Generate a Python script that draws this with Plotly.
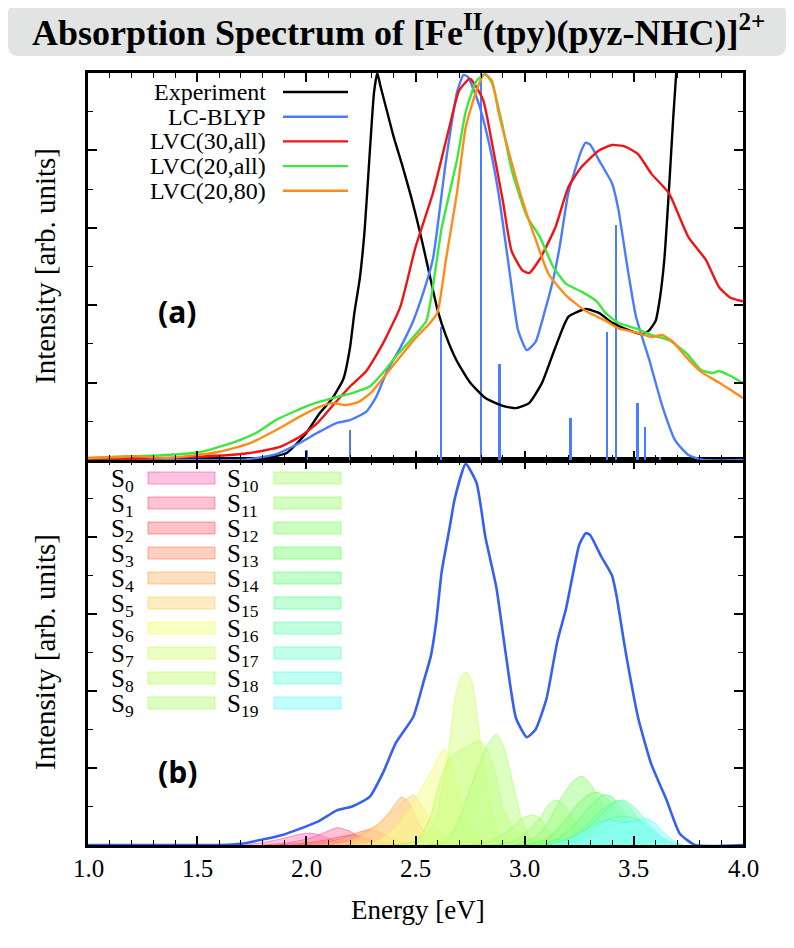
import plotly.graph_objects as go

# ---------------- data: panel (a) ----------------
exp_energy = [1.00, 1.30, 1.50, 1.70, 1.82, 1.91, 2.00, 2.06, 2.12, 2.17, 2.20, 2.22, 2.245, 2.267, 2.29,
              2.31, 2.325, 2.34, 2.37, 2.40, 2.44, 2.48, 2.52, 2.56, 2.60, 2.64, 2.69, 2.75, 2.82, 2.90,
              2.96, 3.02, 3.08, 3.14, 3.20, 3.28, 3.34, 3.40, 3.48, 3.54, 3.57, 3.60, 3.62, 3.64, 3.66,
              3.68, 3.70, 3.72]
exp_intensity = [0.0, 0.0, 0.002, 0.004, 0.006, 0.018, 0.07, 0.12, 0.16, 0.21, 0.29, 0.38, 0.47, 0.594, 0.79,
                 0.95, 1.0, 0.965, 0.90, 0.835, 0.76, 0.68, 0.59, 0.49, 0.39, 0.32, 0.255, 0.20, 0.16, 0.14,
                 0.134, 0.147, 0.20, 0.29, 0.37, 0.39, 0.38, 0.355, 0.335, 0.325, 0.335, 0.36, 0.42, 0.52, 0.69,
                 0.88, 1.05, 1.25]

lcblyp_energy = [1.00, 1.50, 1.70, 1.85, 1.97, 2.05, 2.14, 2.20, 2.275, 2.32, 2.37, 2.43, 2.49, 2.54, 2.58,
                 2.64, 2.69, 2.72, 2.74, 2.79, 2.84, 2.88, 2.93, 2.97, 3.01, 3.05, 3.09, 3.13, 3.16, 3.20,
                 3.26, 3.28, 3.30, 3.34, 3.40, 3.43, 3.47, 3.51, 3.57, 3.63, 3.69, 3.75, 3.82, 4.00]
lcblyp_intensity = [0.0, 0.0, 0.0, 0.013, 0.044, 0.07, 0.096, 0.103, 0.125, 0.163, 0.23, 0.29, 0.36, 0.44, 0.52,
                    0.775, 0.95, 0.995, 0.99, 0.92, 0.81, 0.69, 0.49, 0.335, 0.284, 0.305, 0.38, 0.465, 0.55, 0.69,
                    0.80, 0.82, 0.815, 0.775, 0.715, 0.645, 0.50, 0.37, 0.26, 0.14, 0.05, 0.013, 0.0, 0.0]

lvc30_energy = [1.00, 1.50, 1.74, 1.88, 1.97, 2.05, 2.12, 2.20, 2.275, 2.35, 2.43, 2.50, 2.58, 2.655, 2.70,
                2.75, 2.81, 2.85, 2.90, 2.94, 2.99, 3.02, 3.07, 3.14, 3.20, 3.26, 3.34, 3.40, 3.46, 3.52,
                3.58, 3.66, 3.75, 3.83, 3.89, 3.94, 4.00]
lvc30_intensity = [0.0, 0.008, 0.018, 0.034, 0.06, 0.095, 0.14, 0.19, 0.23, 0.30, 0.395, 0.55, 0.69, 0.86, 0.955,
                   0.985, 0.93, 0.82, 0.67, 0.54, 0.49, 0.483, 0.52, 0.60, 0.705, 0.757, 0.80, 0.814, 0.81, 0.79,
                   0.74, 0.69, 0.576, 0.517, 0.447, 0.42, 0.41]

lvc20all_energy = [1.00, 1.36, 1.51, 1.66, 1.77, 1.86, 1.94, 2.03, 2.12, 2.21, 2.29, 2.35, 2.41, 2.49, 2.55,
                   2.62, 2.69, 2.73, 2.78, 2.82, 2.85, 2.90, 2.94, 3.01, 3.07, 3.13, 3.19, 3.26, 3.33, 3.37,
                   3.43, 3.51, 3.58, 3.66, 3.74, 3.81, 3.86, 3.89, 3.95, 4.00]
lvc20all_intensity = [0.005, 0.013, 0.02, 0.044, 0.07, 0.103, 0.124, 0.145, 0.16, 0.173, 0.19, 0.225, 0.267, 0.318, 0.36,
                      0.60, 0.775, 0.90, 0.98, 0.997, 0.974, 0.86, 0.75, 0.63, 0.576, 0.50, 0.455, 0.435, 0.41, 0.38,
                      0.354, 0.34, 0.323, 0.31, 0.276, 0.232, 0.225, 0.23, 0.215, 0.198]

lvc2080_energy = [1.00, 1.10, 1.21, 1.36, 1.59, 1.74, 1.86, 1.97, 2.06, 2.12, 2.18, 2.24, 2.30, 2.37, 2.43,
                  2.50, 2.56, 2.60, 2.64, 2.69, 2.73, 2.78, 2.815, 2.85, 2.88, 2.93, 2.99, 3.05, 3.11, 3.19,
                  3.28, 3.37, 3.43, 3.51, 3.58, 3.63, 3.68, 3.74, 3.81, 3.89, 4.00]
lvc2080_intensity = [0.005, 0.008, 0.01, 0.005, 0.02, 0.043, 0.077, 0.112, 0.137, 0.147, 0.142, 0.15, 0.176, 0.225, 0.267,
                     0.315, 0.35, 0.38, 0.52, 0.69, 0.86, 0.956, 0.997, 0.98, 0.90, 0.79, 0.67, 0.57, 0.48, 0.425,
                     0.385, 0.36, 0.34, 0.33, 0.318, 0.323, 0.305, 0.266, 0.227, 0.20, 0.16]

stick_energy = [2.00, 2.20, 2.617, 2.80, 2.884, 3.21, 3.376, 3.417, 3.516, 3.55, 3.62]
stick_intensity = [0.026, 0.078, 0.344, 1.0, 0.248, 0.108, 0.332, 0.607, 0.148, 0.086, 0.008]

legend_a_labels = ["Experiment", "LC-BLYP", "LVC(30,all)", "LVC(20,all)", "LVC(20,80)"]

# ---------------- data: panel (b) ----------------
total_energy = [1.00, 1.60, 1.70, 1.89, 2.05, 2.14, 2.21, 2.29, 2.35, 2.41, 2.49, 2.54, 2.57, 2.595, 2.62,
                2.655, 2.68, 2.73, 2.78, 2.82, 2.87, 2.915, 2.96, 3.01, 3.05, 3.10, 3.15, 3.19, 3.25, 3.28,
                3.30, 3.35, 3.40, 3.42, 3.46, 3.52, 3.58, 3.65, 3.71, 3.78, 4.00]
total_intensity = [0.0, 0.0, 0.003, 0.026, 0.06, 0.09, 0.10, 0.125, 0.186, 0.265, 0.333, 0.43, 0.49, 0.58, 0.71,
                   0.82, 0.90, 0.99, 0.94, 0.80, 0.67, 0.49, 0.33, 0.28, 0.30, 0.38, 0.53, 0.615, 0.78, 0.81,
                   0.805, 0.75, 0.70, 0.65, 0.51, 0.33, 0.21, 0.117, 0.03, 0.0, 0.0]

s00_e = [1.70, 1.80, 1.90, 1.97, 2.02, 2.07, 2.13, 2.22, 2.35]
s00_i = [0.0, 0.006, 0.018, 0.028, 0.031, 0.025, 0.012, 0.003, 0.0]
s01_e = [1.80, 1.92, 2.02, 2.09, 2.14, 2.19, 2.25, 2.33, 2.45]
s01_i = [0.0, 0.006, 0.018, 0.034, 0.045, 0.038, 0.02, 0.006, 0.0]
s02_e = [1.85, 1.98, 2.08, 2.16, 2.21, 2.26, 2.33, 2.45]
s02_i = [0.0, 0.004, 0.012, 0.022, 0.026, 0.02, 0.008, 0.0]
s03_e = [1.95, 2.08, 2.18, 2.25, 2.29, 2.33, 2.40, 2.50]
s03_i = [0.0, 0.006, 0.02, 0.035, 0.04, 0.035, 0.015, 0.0]
s04_e = [2.05, 2.18, 2.27, 2.33, 2.38, 2.435, 2.47, 2.52, 2.58, 2.68]
s04_i = [0.0, 0.01, 0.035, 0.055, 0.085, 0.125, 0.11, 0.05, 0.015, 0.0]
s05_e = [2.10, 2.22, 2.30, 2.38, 2.45, 2.49, 2.53, 2.60, 2.70]
s05_i = [0.0, 0.012, 0.04, 0.08, 0.115, 0.13, 0.10, 0.04, 0.0]
s06_e = [2.20, 2.32, 2.40, 2.47, 2.53, 2.58, 2.63, 2.66, 2.70, 2.75, 2.82, 2.90]
s06_i = [0.0, 0.01, 0.04, 0.09, 0.15, 0.20, 0.25, 0.22, 0.13, 0.05, 0.01, 0.0]
s07_e = [2.40, 2.50, 2.58, 2.646, 2.68, 2.71, 2.735, 2.76, 2.79, 2.82, 2.85, 2.89, 2.95]
s07_i = [0.0, 0.01, 0.05, 0.22, 0.377, 0.44, 0.448, 0.42, 0.30, 0.18, 0.09, 0.025, 0.0]
s08_e = [2.40, 2.50, 2.56, 2.61, 2.65, 2.70, 2.75, 2.785, 2.82, 2.86, 2.90, 2.95, 3.02, 3.10]
s08_i = [0.0, 0.01, 0.06, 0.16, 0.22, 0.245, 0.26, 0.27, 0.255, 0.20, 0.10, 0.04, 0.01, 0.0]
s09_e = [2.55, 2.64, 2.70, 2.74, 2.78, 2.83, 2.87, 2.90, 2.93, 2.96, 2.99, 3.03, 3.10]
s09_i = [0.0, 0.01, 0.065, 0.13, 0.19, 0.26, 0.288, 0.26, 0.20, 0.125, 0.06, 0.015, 0.0]
s10_e = [2.75, 2.85, 2.93, 2.99, 3.035, 3.07, 3.10, 3.15, 3.22]
s10_i = [0.0, 0.01, 0.04, 0.07, 0.078, 0.07, 0.045, 0.015, 0.0]
s11_e = [2.85, 2.95, 3.02, 3.07, 3.11, 3.14, 3.17, 3.22, 3.28, 3.35, 3.45]
s11_i = [0.0, 0.01, 0.04, 0.07, 0.105, 0.117, 0.11, 0.07, 0.03, 0.008, 0.0]
s12_e = [2.95, 3.05, 3.11, 3.17, 3.22, 3.26, 3.30, 3.34, 3.40, 3.46, 3.55]
s12_i = [0.0, 0.02, 0.06, 0.125, 0.165, 0.179, 0.16, 0.12, 0.06, 0.02, 0.0]
s13_e = [3.00, 3.10, 3.18, 3.25, 3.30, 3.34, 3.38, 3.44, 3.50, 3.58]
s13_i = [0.0, 0.015, 0.06, 0.11, 0.133, 0.136, 0.12, 0.075, 0.03, 0.0]
s14_e = [3.05, 3.15, 3.24, 3.30, 3.36, 3.40, 3.45, 3.52, 3.60]
s14_i = [0.0, 0.015, 0.06, 0.10, 0.13, 0.125, 0.09, 0.04, 0.0]
s15_e = [3.10, 3.20, 3.28, 3.35, 3.42, 3.46, 3.52, 3.58, 3.65]
s15_i = [0.0, 0.015, 0.05, 0.09, 0.115, 0.11, 0.07, 0.03, 0.0]
s16_e = [3.10, 3.22, 3.30, 3.37, 3.42, 3.45, 3.50, 3.56, 3.63, 3.70]
s16_i = [0.0, 0.02, 0.05, 0.09, 0.112, 0.117, 0.10, 0.06, 0.02, 0.0]
s17_e = [3.15, 3.25, 3.32, 3.38, 3.44, 3.50, 3.56, 3.62, 3.70]
s17_i = [0.0, 0.015, 0.04, 0.065, 0.075, 0.07, 0.05, 0.02, 0.0]
s18_e = [3.15, 3.25, 3.33, 3.40, 3.46, 3.52, 3.58, 3.65, 3.72]
s18_i = [0.0, 0.01, 0.03, 0.05, 0.06, 0.06, 0.04, 0.012, 0.0]
s19_e = [3.10, 3.20, 3.30, 3.38, 3.42, 3.47, 3.52, 3.56, 3.60, 3.65, 3.70, 3.73]
s19_i = [0.0, 0.015, 0.045, 0.065, 0.062, 0.058, 0.065, 0.069, 0.055, 0.025, 0.005, 0.0]

state_energies = [s00_e, s01_e, s02_e, s03_e, s04_e, s05_e, s06_e, s07_e, s08_e, s09_e,
                  s10_e, s11_e, s12_e, s13_e, s14_e, s15_e, s16_e, s17_e, s18_e, s19_e]
state_intensities = [s00_i, s01_i, s02_i, s03_i, s04_i, s05_i, s06_i, s07_i, s08_i, s09_i,
                     s10_i, s11_i, s12_i, s13_i, s14_i, s15_i, s16_i, s17_i, s18_i, s19_i]
state_labels = ["S<sub>%d</sub>" % k for k in range(20)]

x_tick_values = [1.0, 1.5, 2.0, 2.5, 3.0, 3.5, 4.0]
x_tick_labels = ["1.0", "1.5", "2.0", "2.5", "3.0", "3.5", "4.0"]

# ---------------- styles ----------------
STATE_HUES = [330, 345, 358, 14, 28, 42, 66, 78, 86, 92, 95, 100, 108, 118, 128, 140, 150, 160, 170, 180]
LINE_COLORS_A = ["#000000", "#4a7cff", "#f01414", "#3ce83c", "#ff8c1a"]
BLUE_B = "#3560f5"
SERIF = "Liberation Serif, Times New Roman, serif"
FILL_FMT = "hsla(%d,100%%,76%%,0.5)"
EDGE_FMT = "hsla(%d,100%%,58%%,0.45)"

# the page puts the figure 8 px from its top-left corner; all layout positions below are page pixels
PAGE_OFF = 8
W_FIG, H_FIG = 794 - PAGE_OFF, 948 - PAGE_OFF
FRAME_L, FRAME_R, FRAME_T, FRAME_B = 88, 743, 73, 845
L = FRAME_L - PAGE_OFF
T = FRAME_T - PAGE_OFF
R = W_FIG - (FRAME_R - PAGE_OFF)
B = H_FIG - (FRAME_B - PAGE_OFF)
PW = FRAME_R - FRAME_L
PH = FRAME_B - FRAME_T
SPLIT = (FRAME_B - 460) / PH


def px(x):
    return (x - FRAME_L) / PW


def py(y):
    return (FRAME_B - y) / PH


fig = go.Figure()

# panel (a)
fig.add_trace(go.Bar(x=stick_energy, y=stick_intensity, width=0.011,
                     marker=dict(color=LINE_COLORS_A[1], line=dict(width=0)),
                     xaxis="x2", yaxis="y2", showlegend=False, hoverinfo="skip"))
series_a = [(exp_energy, exp_intensity), (lcblyp_energy, lcblyp_intensity),
            (lvc30_energy, lvc30_intensity), (lvc20all_energy, lvc20all_intensity),
            (lvc2080_energy, lvc2080_intensity)]
for (xs, ys), col, name in zip(series_a, LINE_COLORS_A, legend_a_labels):
    fig.add_trace(go.Scatter(x=xs, y=ys, mode="lines", name=name,
                             line=dict(color=col, width=2.4, shape="spline", smoothing=0.5),
                             xaxis="x2", yaxis="y2", showlegend=False))

# panel (b)
for k, (xs, ys) in enumerate(zip(state_energies, state_intensities)):
    h = STATE_HUES[k]
    fig.add_trace(go.Scatter(x=xs, y=ys, mode="lines", fill="tozeroy",
                             fillcolor=FILL_FMT % h,
                             line=dict(color=EDGE_FMT % h, width=1, shape="spline", smoothing=0.6),
                             xaxis="x", yaxis="y", showlegend=False, name="S%d" % k))
fig.add_trace(go.Scatter(x=total_energy, y=total_intensity, mode="lines",
                         line=dict(color=BLUE_B, width=2.6, shape="spline", smoothing=0.5),
                         xaxis="x", yaxis="y", showlegend=False))

axis_common = dict(showline=True, linewidth=2.5, linecolor="black", mirror="allticks",
                   ticks="inside", tickwidth=1.5, tickcolor="black", showgrid=False, zeroline=False)
xaxis_common = dict(axis_common, range=[1, 4], tickmode="array", tickvals=x_tick_values,
                    ticklen=9, showticklabels=False,
                    minor=dict(dtick=0.1, tick0=1.0, ticks="inside", ticklen=5, tickwidth=1.2, tickcolor="black"))
yaxis_common = dict(axis_common, range=[0, 1], dtick=0.2, tick0=0, ticklen=9, showticklabels=False,
                    minor=dict(dtick=0.1, ticks="inside", ticklen=5, tickwidth=1.2, tickcolor="black"))

shapes = []
annotations = []

# title box
x0, x1, y0, y1, r = 8, 786, 4, 56, 10
path = ("M %f,%f L %f,%f Q %f,%f %f,%f L %f,%f Q %f,%f %f,%f L %f,%f Q %f,%f %f,%f L %f,%f Q %f,%f %f,%f Z" % (
    px(x0 + r), py(y0), px(x1 - r), py(y0), px(x1), py(y0), px(x1), py(y0 + r),
    px(x1), py(y1 - r), px(x1), py(y1), px(x1 - r), py(y1),
    px(x0 + r), py(y1), px(x0), py(y1), px(x0), py(y1 - r),
    px(x0), py(y0 + r), px(x0), py(y0), px(x0 + r), py(y0)))
shapes.append(dict(type="path", xref="paper", yref="paper", path=path,
                   fillcolor="#e2e4e4", line=dict(width=0), layer="below"))
annotations.append(dict(text="<b>Absorption Spectrum of [Fe<sup>II</sup>(tpy)(pyz-NHC)]<sup>2+</sup></b>",
                        x=px(398), y=py(30), xref="paper", yref="paper", showarrow=False,
                        xanchor="center", yanchor="middle",
                        font=dict(family=SERIF, size=36, color="black")))

# x tick labels (bottom panel)
for v, t in zip(x_tick_values, x_tick_labels):
    annotations.append(dict(text=t, x=v, y=py(868), xref="x", yref="paper", showarrow=False,
                            xanchor="center", yanchor="middle", font=dict(family=SERIF, size=25, color="black")))

# legend (a)
for k, (name, col) in enumerate(zip(legend_a_labels, LINE_COLORS_A)):
    yy = 92 + 24.7 * k
    annotations.append(dict(text=name, x=px(268), y=py(yy), xref="paper", yref="paper", showarrow=False,
                            xanchor="right", yanchor="middle", font=dict(family=SERIF, size=24, color="black")))
    shapes.append(dict(type="line", xref="paper", yref="paper", x0=px(283), x1=px(348), y0=py(yy), y1=py(yy),
                       line=dict(color=col, width=2.4)))

# legend (b)
for k, lab in enumerate(state_labels):
    col = k // 10
    row = k % 10
    yy = 478 + 25 * row
    lx = 109 if col == 0 else 225
    sx0 = 148 if col == 0 else 274
    h = STATE_HUES[k]
    annotations.append(dict(text=lab, x=px(lx), y=py(yy + 2), xref="paper", yref="paper", showarrow=False,
                            xanchor="left", yanchor="middle", font=dict(family=SERIF, size=25, color="black")))
    shapes.append(dict(type="rect", xref="paper", yref="paper", x0=px(sx0), x1=px(sx0 + 67),
                       y0=py(yy - 6), y1=py(yy + 6),
                       fillcolor=FILL_FMT % h, line=dict(color=EDGE_FMT % h, width=1)))

# panel labels and axis titles
annotations.append(dict(text="<b>(a)</b>", x=px(177), y=py(311), xref="paper", yref="paper", showarrow=False,
                        xanchor="center", yanchor="middle", font=dict(family="Open Sans", size=30, color="black")))
annotations.append(dict(text="<b>(b)</b>", x=px(177), y=py(771), xref="paper", yref="paper", showarrow=False,
                        xanchor="center", yanchor="middle", font=dict(family="Open Sans", size=30, color="black")))
for yc in (266, 652):
    annotations.append(dict(text="Intensity [arb. units]", x=px(45), y=py(yc), xref="paper", yref="paper",
                            showarrow=False, textangle=-90, xanchor="center", yanchor="middle",
                            font=dict(family=SERIF, size=29, color="black")))
annotations.append(dict(text="Energy [eV]", x=px(418), y=py(910), xref="paper", yref="paper", showarrow=False,
                        xanchor="center", yanchor="middle", font=dict(family=SERIF, size=27, color="black")))

fig.update_layout(
    width=W_FIG, height=H_FIG,
    margin=dict(l=L, r=R, t=T, b=B, pad=0),
    paper_bgcolor="white", plot_bgcolor="white",
    showlegend=False, bargap=0,
    xaxis=dict(xaxis_common, anchor="y", domain=[0, 1]),
    xaxis2=dict(xaxis_common, anchor="y2", domain=[0, 1], matches="x"),
    yaxis=dict(yaxis_common, anchor="x", domain=[0, SPLIT]),
    yaxis2=dict(yaxis_common, anchor="x2", domain=[SPLIT, 1]),
    shapes=shapes, annotations=annotations,
)

fig.write_html("out.html")
